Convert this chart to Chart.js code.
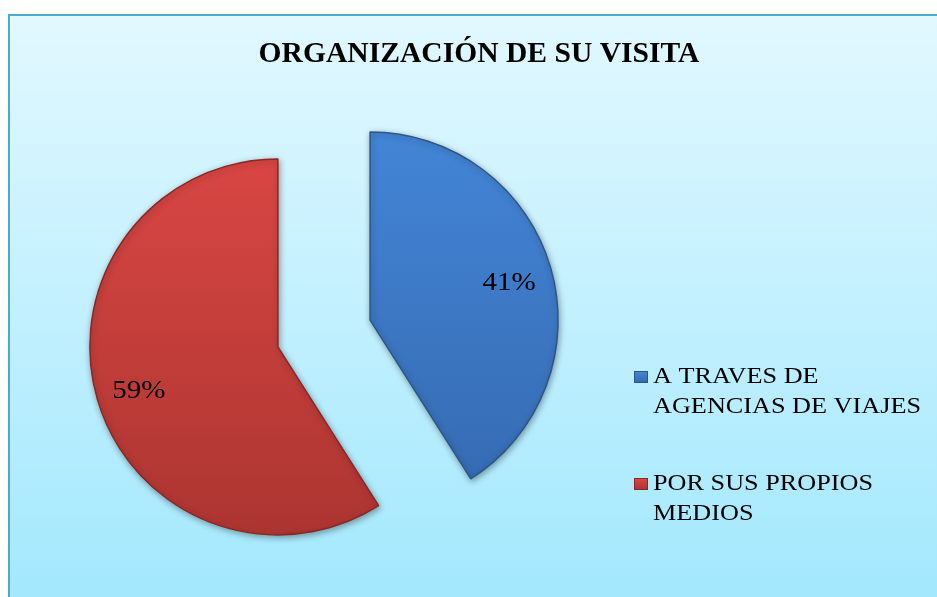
<!DOCTYPE html>
<html>
<head>
<meta charset="utf-8">
<script src="https://cdn.jsdelivr.net/npm/chart.js@4.4.0/dist/chart.umd.min.js"></script>
<style>
  html, body { margin: 0; padding: 0; background: #fff; }
  #wrap { width: 937px; height: 597px; }
</style>
</head>
<body>
<div id="wrap"><canvas id="visitChart" width="937" height="597"></canvas></div>
<script>
const chartTitle = 'ORGANIZACIÓN DE SU VISITA';
const categories = ['A TRAVES DE AGENCIAS DE VIAJES', 'POR SUS PROPIOS MEDIOS'];
const shares = [41, 59];

const fillTop = ['#4486d8', '#da4744'];
const fillBottom = ['#3468ae', '#aa3430'];
const edgeColors = ['#2b5689', '#8a2724'];

const SERIF = '"Liberation Serif", "Times New Roman", serif';
const TEXT_STRETCH = 1.14; // text is drawn a little wide
const EXPLODE = 48;        // how far each slice is pulled out, px

// draws text with a horizontal stretch, anchored at x
function wideText(ctx, text, x, y) {
  ctx.save();
  ctx.translate(x, y);
  ctx.scale(TEXT_STRETCH, 1);
  ctx.fillText(text, 0, 0);
  ctx.restore();
}

// panel background + frame + title
const panelBackground = {
  id: 'panelBackground',
  beforeDraw(chart) {
    const { ctx, width, height } = chart;
    ctx.save();
    ctx.fillStyle = '#ffffff';
    ctx.fillRect(0, 0, width, height);
    const g = ctx.createLinearGradient(0, 14, 0, height);
    g.addColorStop(0, '#e2f8ff');
    g.addColorStop(1, '#a3e8fd');
    ctx.fillStyle = g;
    ctx.fillRect(9, 15, width - 9, height - 15);
    ctx.strokeStyle = '#4aabc8';
    ctx.lineWidth = 2;
    ctx.beginPath();
    ctx.moveTo(9, height);
    ctx.lineTo(9, 15);
    ctx.lineTo(width, 15);
    ctx.stroke();
    ctx.fillStyle = '#000';
    ctx.font = 'bold 29px ' + SERIF;
    ctx.textAlign = 'center';
    ctx.textBaseline = 'alphabetic';
    ctx.save();
    ctx.translate(479, 62);
    ctx.scale(1.02, 1);
    ctx.fillText(chartTitle, 0, 0);
    ctx.restore();
    ctx.restore();
  }
};

// exploded slices: every arc is pushed out along its bisector, with a soft shadow
const explodedSlices = {
  id: 'explodedSlices',
  beforeDatasetDraw(chart, args) {
    const ctx = chart.ctx;
    args.meta.data.forEach(arc => {
      const mid = (arc.startAngle + arc.endAngle) / 2;
      ctx.save();
      ctx.shadowColor = 'rgba(0,0,0,0.35)';
      ctx.shadowBlur = 6;
      ctx.shadowOffsetX = 1;
      ctx.shadowOffsetY = 2;
      ctx.translate(Math.cos(mid) * EXPLODE, Math.sin(mid) * EXPLODE);
      arc.draw(ctx, chart.chartArea);
      ctx.restore();
    });
    return false;
  }
};

// percent labels inside the slices
const sliceLabels = {
  id: 'sliceLabels',
  afterDatasetsDraw(chart) {
    const ctx = chart.ctx;
    const meta = chart.getDatasetMeta(0);
    const ds = chart.data.datasets[0];
    const total = ds.data.reduce((a, b) => a + b, 0);
    ctx.save();
    ctx.font = '25.5px ' + SERIF;
    ctx.fillStyle = '#000';
    ctx.textAlign = 'center';
    ctx.textBaseline = 'middle';
    meta.data.forEach((arc, i) => {
      const mid = (arc.startAngle + arc.endAngle) / 2;
      const d = EXPLODE + arc.outerRadius * 0.77;
      const x = arc.x + Math.cos(mid) * d;
      const y = arc.y + Math.sin(mid) * d + 4;
      wideText(ctx, Math.round(ds.data[i] / total * 100) + '%', x, y);
    });
    ctx.restore();
  }
};

// legend on the right, wrapped text
const sideLegend = {
  id: 'sideLegend',
  afterDraw(chart) {
    const ctx = chart.ctx;
    const labels = chart.data.labels;
    const left = 634, textX = 653, maxW = 280, lineH = 30;
    const firstBase = [383, 490];
    ctx.save();
    ctx.font = '23px ' + SERIF;
    ctx.textBaseline = 'alphabetic';
    ctx.textAlign = 'left';
    labels.forEach((label, i) => {
      const words = label.split(' ');
      const lines = [];
      let cur = '';
      words.forEach(w => {
        const test = cur ? cur + ' ' + w : w;
        if (ctx.measureText(test).width * TEXT_STRETCH > maxW && cur) {
          lines.push(cur);
          cur = w;
        } else {
          cur = test;
        }
      });
      lines.push(cur);

      const base = firstBase[i];
      const g = ctx.createLinearGradient(0, base - 12, 0, base);
      g.addColorStop(0, fillTop[i]);
      g.addColorStop(1, fillBottom[i]);
      ctx.fillStyle = g;
      ctx.fillRect(left, base - 12, 14, 12);
      ctx.strokeStyle = edgeColors[i];
      ctx.lineWidth = 1;
      ctx.strokeRect(left + 0.5, base - 11.5, 13, 11);

      ctx.fillStyle = '#000';
      lines.forEach((ln, k) => wideText(ctx, ln, textX, base + k * lineH));
    });
    ctx.restore();
  }
};

new Chart(document.getElementById('visitChart'), {
  type: 'pie',
  data: {
    labels: categories,
    datasets: [{
      data: shares,
      backgroundColor: (c) => {
        if (!c.chart.chartArea) return fillTop[c.dataIndex];
        const g = c.chart.ctx.createLinearGradient(0, 130, 0, 540);
        g.addColorStop(0, fillTop[c.dataIndex]);
        g.addColorStop(1, fillBottom[c.dataIndex]);
        return g;
      },
      borderColor: edgeColors,
      borderWidth: 1.5,
      offset: 0,
      hoverOffset: 0
    }]
  },
  options: {
    responsive: false,
    animation: false,
    radius: 188,
    layout: {
      padding: { left: 24, right: 313, top: 84, bottom: 14 }
    },
    plugins: {
      legend: { display: false },
      title: { display: false },
      tooltip: { enabled: false }
    }
  },
  plugins: [panelBackground, explodedSlices, sliceLabels, sideLegend]
});
</script>
</body>
</html>
